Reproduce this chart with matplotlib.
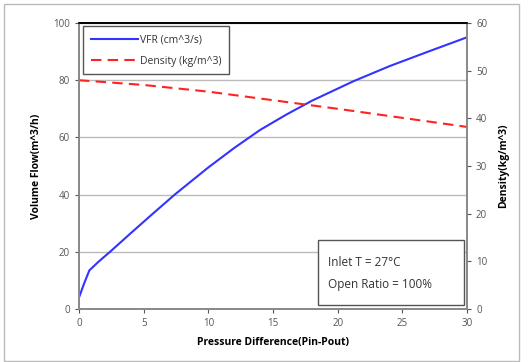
import matplotlib.pyplot as plt
from matplotlib.patches import Rectangle

# VFR on left axis
vfr_x = [0, 0.4, 0.8, 1.5, 2.4, 4, 5.5, 7.4, 10, 12, 14, 16, 18, 21.2, 24, 27, 30]
vfr_y = [4, 9, 13.5, 16.5, 20, 26.5, 32.5, 40, 49.5, 56.3, 62.6, 67.9, 72.8, 79.6, 84.9, 90, 95]
# density on right axis
den_x = [0, 5, 10, 15, 20, 25, 30]
den_y = [48, 47.0, 45.6, 43.8, 42.0, 40.1, 38.2]

plt.rcParams['font.family'] = ['Open Sans', 'DejaVu Sans']
grey = '#555555'

fig = plt.figure(figsize=(5.28, 3.62), dpi=100)
fig.patches.append(Rectangle((0.008, 0.003), 0.975, 0.985, transform=fig.transFigure,
                             fill=False, edgecolor='#bbbbbb', lw=1))
ax = fig.add_axes([79 / 528, 1 - 309 / 362, 388 / 528, 286 / 362])
ax2 = ax.twinx()

l1, = ax.plot(vfr_x, vfr_y, color='#3333ff', lw=1.5, label='VFR (cm^3/s)')
l2, = ax2.plot(den_x, den_y, color='#ff2222', lw=1.5, ls=(0, (5, 3)), label='Density (kg/m^3)')

ax.set_xlim(0, 30)
ax.set_ylim(0, 100)
ax2.set_ylim(0, 60)
ax.set_xticks(range(0, 31, 5))
ax.set_yticks(range(0, 101, 20))
ax2.set_yticks(range(0, 61, 10))
ax.yaxis.grid(True, color='#bbbbbb', lw=1)
ax.set_axisbelow(True)

for a in (ax, ax2):
    a.tick_params(labelsize=7, colors=grey, length=3, width=0.8)
    for s in a.spines.values():
        s.set_color('#888888')
        s.set_linewidth(1.2)
ax.spines['top'].set_color('black')
ax2.spines['top'].set_color('black')

ax.set_xlabel('Pressure Difference(Pin-Pout)', fontsize=7.5, fontweight='bold', labelpad=6)
ax.set_ylabel('Volume Flow(m^3/h)', fontsize=7.5, fontweight='bold', labelpad=8)
ax2.set_ylabel('Density(kg/m^3)', fontsize=7.5, fontweight='bold', labelpad=8)

leg = ax2.legend([l1, l2], [l1.get_label(), l2.get_label()], loc='upper left',
                 bbox_to_anchor=(0.01, 0.988), fontsize=7.5, fancybox=False,
                 edgecolor='#555555', framealpha=1, handlelength=4.5, handletextpad=0.2,
                 labelspacing=1.0, borderpad=0.75, borderaxespad=0)
leg.get_frame().set_linewidth(1)
for t in leg.get_texts():
    t.set_color('#333333')

# annotation box
ax2.add_patch(Rectangle((0.616, 0.014), 0.376, 0.227, transform=ax.transAxes,
                        facecolor='white', edgecolor='#555555', lw=1, zorder=5))
ax2.text(0.642, 0.164, 'Inlet T = 27\u00b0C', transform=ax.transAxes, fontsize=8.5,
         color='#333333', va='center', ha='left', zorder=6)
ax2.text(0.642, 0.084, 'Open Ratio = 100%', transform=ax.transAxes, fontsize=8.5,
         color='#333333', va='center', ha='left', zorder=6)

fig.savefig('out.png', dpi=100)
